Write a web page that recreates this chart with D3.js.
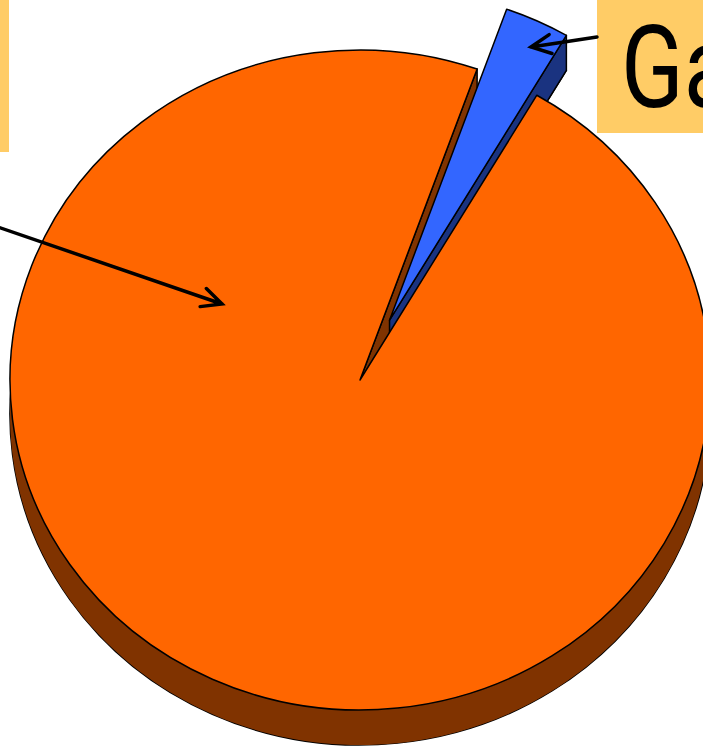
<!DOCTYPE html>
<html>
<head>
<meta charset="utf-8">
<script src="https://cdn.jsdelivr.net/npm/d3@7"></script>
<style>
  html, body { margin: 0; padding: 0; background: #fff; }
  svg { display: block; }
</style>
</head>
<body>
<svg id="chart" width="703" height="748"></svg>
<script>
// ---- data ----
const categories = ["Other", "Gas"];
const values = [97, 3];
const topColors = ["#FF6600", "#3366FF"];
const sideColors = ["#803300", "#1A3380"];
const labels = ["", "Gas"];

// ---- layout ----
const W = 703, H = 748;
const cx = 360, cy = 380, rx = 350, ry = 330, depthPx = 35;
const k = ry / rx;                 // vertical squash
const depth = depthPx / k;         // depth in circle units
const startDeg = 30.35;
const explode = [0, 70];

const svg = d3.select("#chart");

const pie = d3.pie().sort(null).value(d => d)
  .startAngle(startDeg * Math.PI / 180)
  .endAngle(startDeg * Math.PI / 180 + 2 * Math.PI);
const arcs = pie(values);
const arc = d3.arc().innerRadius(0).outerRadius(rx);

const g = svg.append("g").attr("transform", `translate(${cx},${cy}) scale(1,${k})`);

const P = (a, r) => [r * Math.sin(a), -r * Math.cos(a)];
function offsetOf(d, i) {
  const m = (d.startAngle + d.endAngle) / 2;
  return P(m, explode[i]);
}
const strokeStyle = sel => sel.attr("stroke", "#000").attr("stroke-width", 1.5)
  .attr("vector-effect", "non-scaling-stroke").attr("stroke-linejoin", "round");

function endFace(d, off, a) {
  const o = P(a, rx);
  const p = d3.path();
  p.moveTo(off[0], off[1]);
  p.lineTo(off[0] + o[0], off[1] + o[1]);
  p.lineTo(off[0] + o[0], off[1] + o[1] + depth);
  p.lineTo(off[0], off[1] + depth);
  p.closePath();
  return p.toString();
}
function wall(d, off) {
  // visible outer wall between right (pi/2) and left (3pi/2)
  const a0 = Math.PI / 2, a1 = 3 * Math.PI / 2;
  const p = d3.path();
  const n = 120;
  for (let j = 0; j <= n; j++) {
    const a = a0 + (a1 - a0) * j / n;
    const q = P(a, rx);
    if (j === 0) p.moveTo(off[0] + q[0], off[1] + q[1]); else p.lineTo(off[0] + q[0], off[1] + q[1]);
  }
  for (let j = n; j >= 0; j--) {
    const a = a0 + (a1 - a0) * j / n;
    const q = P(a, rx);
    p.lineTo(off[0] + q[0], off[1] + q[1] + depth);
  }
  p.closePath();
  return p.toString();
}

const dO = arcs[0], dB = arcs[1];
const offO = offsetOf(dO, 0), offB = offsetOf(dB, 1);

// orange: bottom face, wall, end face
g.append("path").attr("d", arc(dO))
  .attr("transform", `translate(${offO[0]},${offO[1] + depth})`)
  .attr("fill", sideColors[0]).call(strokeStyle);
g.append("path").attr("d", wall(dO, offO)).attr("fill", sideColors[0]);
g.append("path").attr("d", endFace(dO, offO, dO.endAngle)).attr("fill", sideColors[0]).call(strokeStyle);

// blue: bottom face and end face
g.append("path").attr("d", arc(dB))
  .attr("transform", `translate(${offB[0]},${offB[1] + depth})`)
  .attr("fill", sideColors[1]).call(strokeStyle);
g.append("path").attr("d", endFace(dB, offB, dB.endAngle)).attr("fill", sideColors[1]).call(strokeStyle);

// top faces
g.append("path").attr("d", arc(dO))
  .attr("transform", `translate(${offO[0]},${offO[1]})`)
  .attr("fill", topColors[0]).call(strokeStyle);
g.append("path").attr("d", arc(dB))
  .attr("transform", `translate(${offB[0]},${offB[1]})`)
  .attr("fill", topColors[1]).call(strokeStyle);

// ---- callout boxes ----
svg.append("rect").attr("x", -200).attr("y", -5).attr("width", 209).attr("height", 157).attr("fill", "#FFCC66");
svg.append("rect").attr("x", 597).attr("y", -5).attr("width", 220).attr("height", 138).attr("fill", "#FFCC66");
svg.append("text")
  .attr("transform", "translate(621,107) scale(0.8,1)")
  .attr("font-family", "Roboto, Lato, 'DejaVu Sans', sans-serif")
  .attr("font-weight", 400)
  .attr("font-size", 115).attr("fill", "#000").text(labels[1]);

// ---- arrows ----
function arrow(x1, y1, x2, y2) {
  const ang = Math.atan2(y2 - y1, x2 - x1);
  const L = 22, s = 0.45;
  const p = d3.path();
  p.moveTo(x1, y1); p.lineTo(x2, y2);
  p.moveTo(x2 - L * Math.cos(ang - s), y2 - L * Math.sin(ang - s));
  p.lineTo(x2, y2);
  p.lineTo(x2 - L * Math.cos(ang + s), y2 - L * Math.sin(ang + s));
  svg.append("path").attr("d", p.toString()).attr("fill", "none")
    .attr("stroke", "#000").attr("stroke-width", 3.5)
    .attr("stroke-linecap", "round").attr("stroke-linejoin", "miter");
}
arrow(-40, 214, 222, 304);
arrow(597, 37, 531, 47);
</script>
</body>
</html>
